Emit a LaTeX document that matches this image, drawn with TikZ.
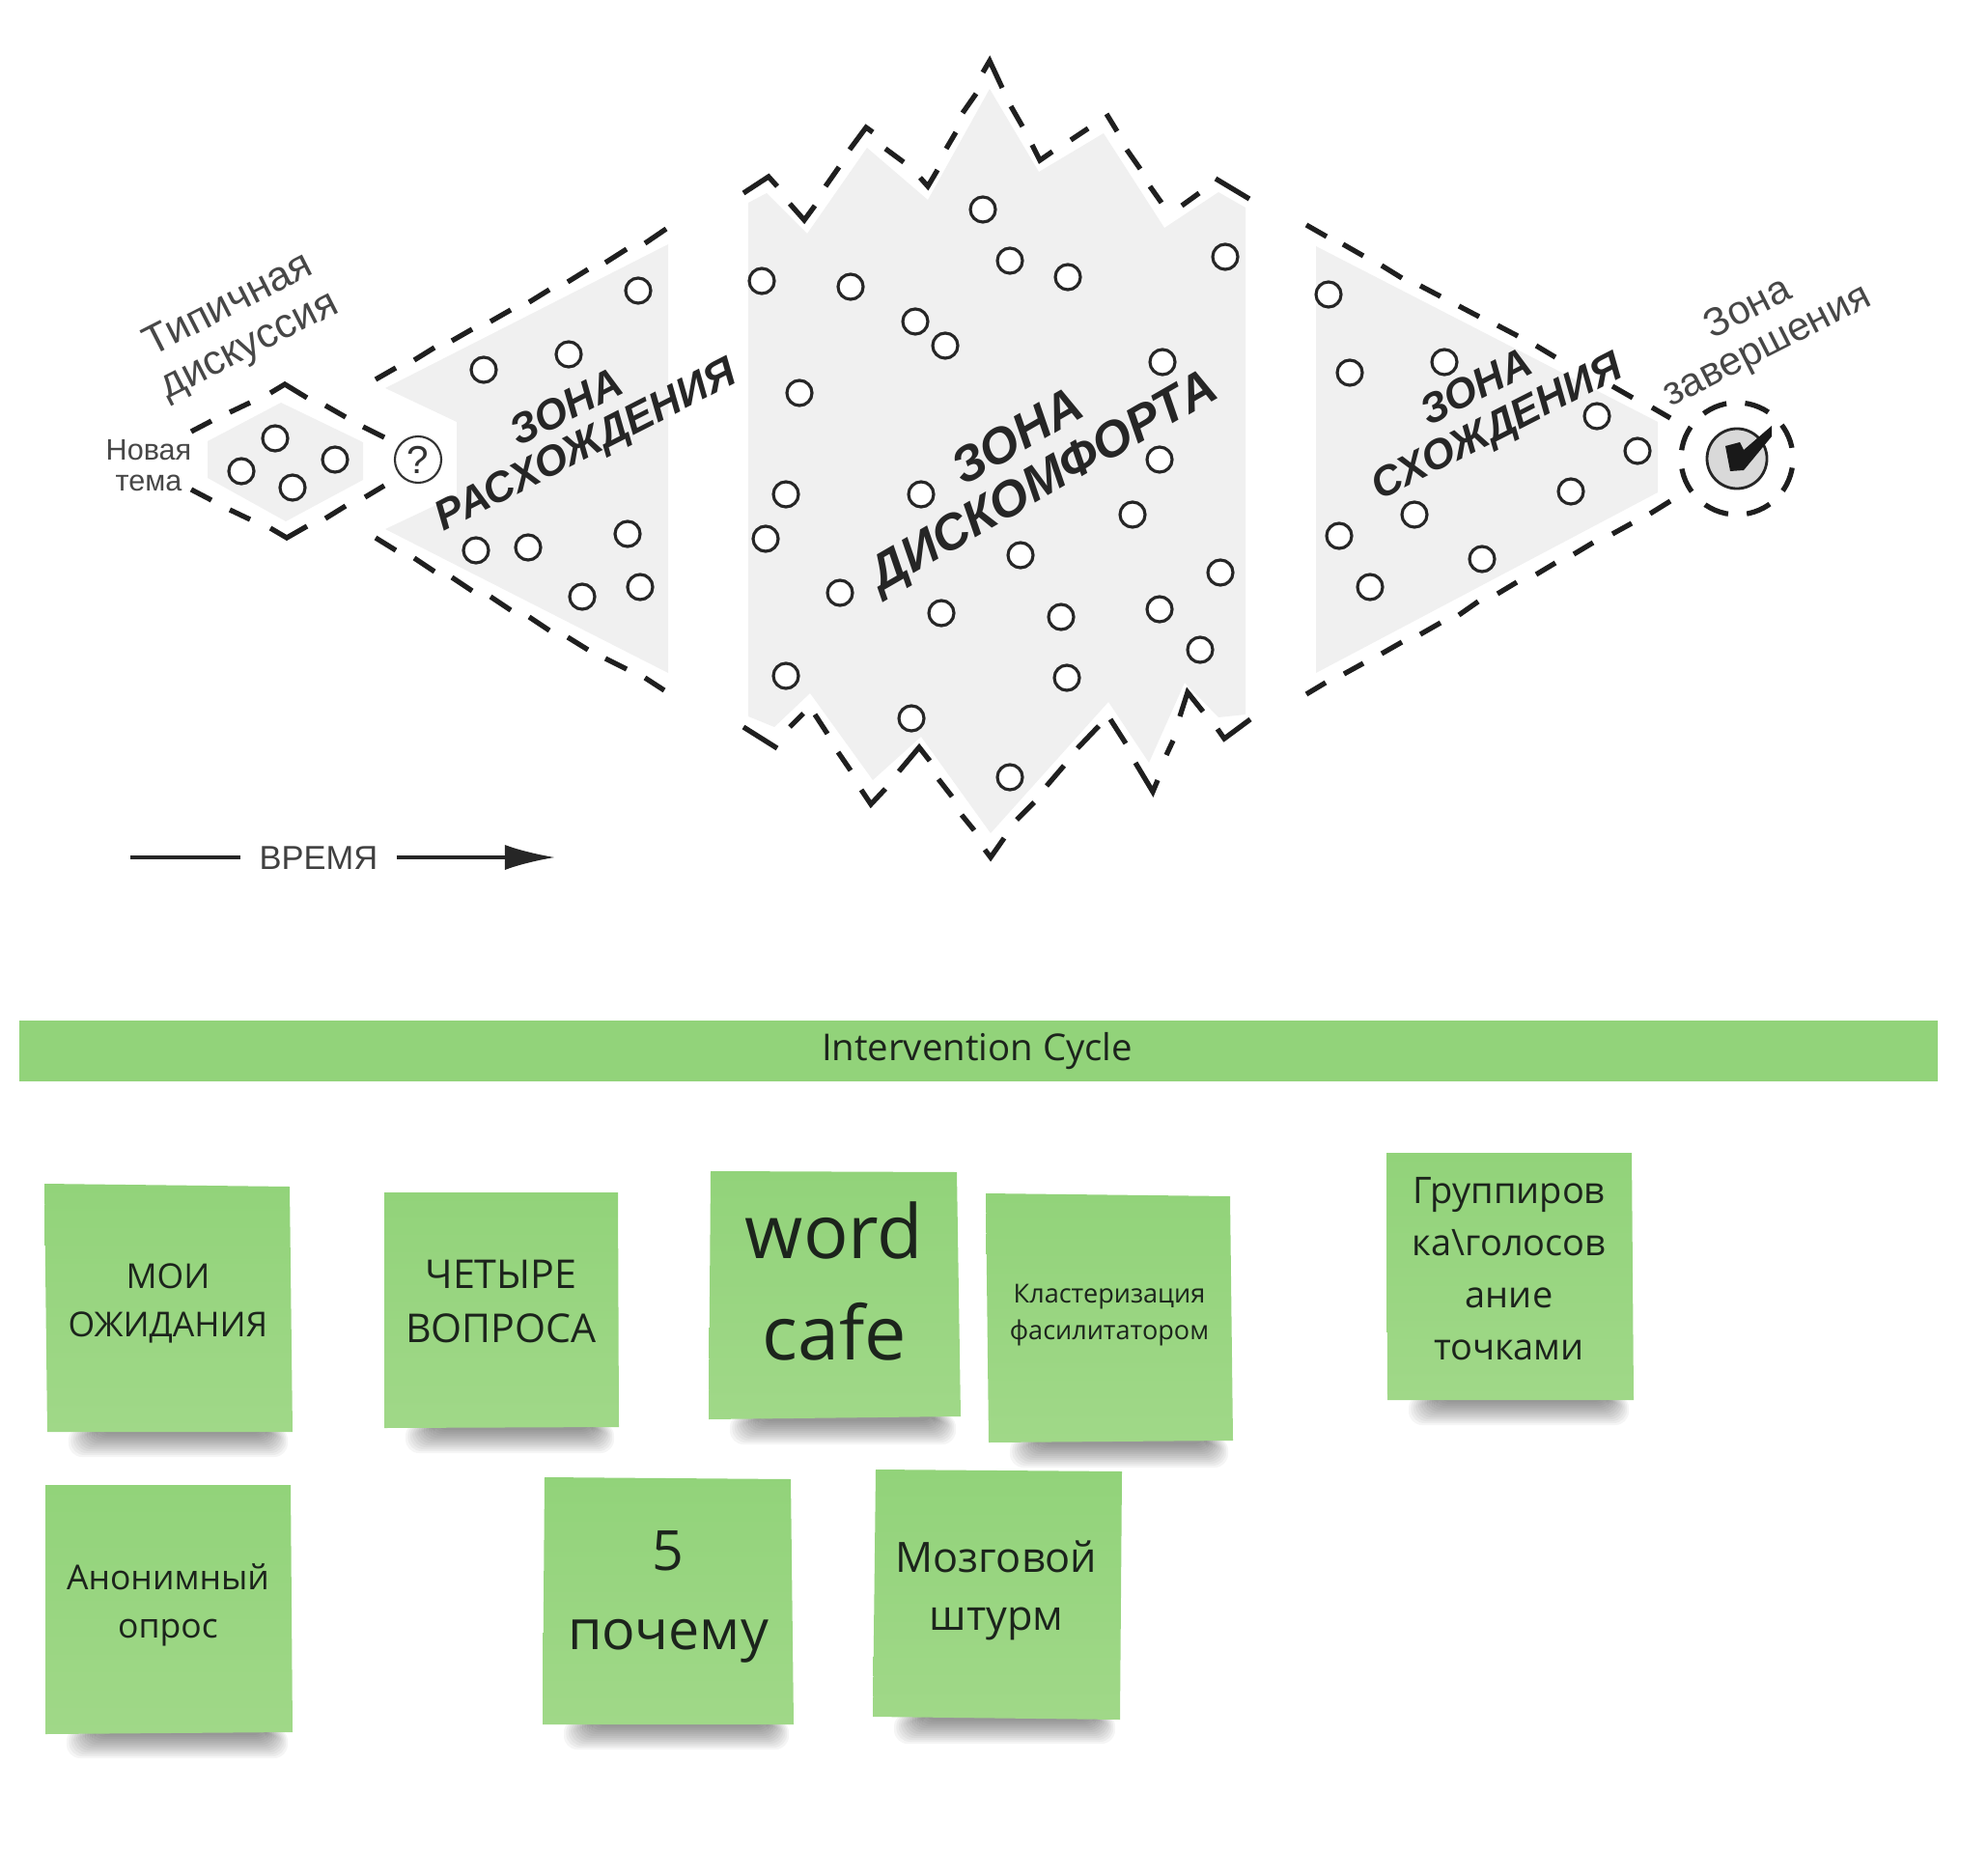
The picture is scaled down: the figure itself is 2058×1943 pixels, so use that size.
\documentclass[tikz,border=0pt]{standalone}
\usepackage{fontspec}
\setmainfont{Liberation Sans}
\newfontfamily\opensans{Open Sans}
\usetikzlibrary{arrows.meta}
\definecolor{zonegray}{HTML}{F0F0F0}
\definecolor{stickytop}{HTML}{92D37A}
\definecolor{stickylow}{HTML}{A0D888}
\definecolor{inktext}{HTML}{1C241C}
\tikzset{
    zonefill/.style={fill=zonegray},
    zonedash/.style={line width=1.5pt,draw=black!88},
    dot/.style={line width=0.9pt,draw=black!85,fill=white},
    zonelabel/.style={font=\bfseries\itshape\fontsize{12.4pt}{12.3pt}\selectfont,text=black!85,align=center,rotate=27},
    sidelabel/.style={text=black!72,align=center,rotate=27},
    stickyfill/.style={top color=stickytop,bottom color=stickylow},
    stickytext/.style={font=\opensans,text=inktext,align=center},
}
\begin{document}
\begin{tikzpicture}[x=0.01cm,y=-0.01cm]
    \useasboundingbox (0,0) rectangle (2058,1943);

    % Серые зоны
    \fill[zonefill] (215,457) -- (291,417) -- (376,458) -- (376,497) -- (296,540) -- (215,495) -- cycle;
    \fill[zonefill] (399,402) -- (473,437) -- (473,513) -- (399,548) -- (692,697) -- (692,253) -- cycle;
    \fill[zonefill] (775,210) -- (794,200) -- (836,242) -- (898,153) -- (961,207) -- (1025,92) -- (1076,178)
        -- (1143,138) -- (1206,236) -- (1262,199) -- (1290,215) -- (1290,740) -- (1262,743) -- (1227,707)
        -- (1190,790) -- (1148,727) -- (1026,863) -- (954,763) -- (904,808) -- (839,718) -- (802,753) -- (775,742) -- cycle;
    \fill[zonefill] (1363,255) -- (1717,437) -- (1717,510) -- (1363,697) -- cycle;

    % Типичная дискуссия
    \draw[zonedash] (198,447) -- (219,436) (238,427) -- (259,417) (280,407) -- (295,398) -- (318,412)
        (337,420) -- (358,432) (376,442) -- (398,453) (398,503) -- (378,515) (358,524) -- (337,537)
        (318,545) -- (297,557) -- (280,547) (259,538) -- (238,528) (219,518) -- (198,507);

    % Расхождение
    \draw[zonedash] (389,393) -- (410,381) (429,373) -- (450,360) (468,353) -- (489,341) (508,333) -- (529,321)
        (548,313) -- (569,300) (588,292) -- (609,279) (627,272) -- (649,258) (668,252) -- (690,237);
    \draw[zonedash] (389,557) -- (410,570) (429,578) -- (450,592) (468,598) -- (489,612) (508,618) -- (529,632)
        (548,639) -- (569,653) (588,660) -- (609,673) (627,682) -- (649,693) (668,702) -- (688,715);

    % Дискомфорт, верх
    \draw[zonedash] (770,200) -- (796,183) -- (805,193) (818,211) -- (833,228) -- (844,213) (855,193) -- (869,173)
        (880,155) -- (897,132) -- (904,137) (917,154) -- (936,168) (953,184) -- (961,193) -- (971,176)
        (980,154) -- (990,137) (997,117) -- (1011,97) (1018,75) -- (1025,63) -- (1038,91) (1047,110) -- (1059,131)
        (1069,150) -- (1077,166) -- (1090,157) (1109,145) -- (1127,133) (1146,118) -- (1157,136)
        (1167,155) -- (1181,175) (1191,193) -- (1203,210) (1224,213) -- (1242,200) (1259,185) -- (1294,206);

    % Дискомфорт, низ
    \draw[zonedash] (770,753) -- (805,775) (818,753) -- (832,739) (844,740) -- (857,760) (868,779) -- (881,798)
        (892,818) -- (902,833) -- (917,817) (931,799) -- (952,774) -- (963,788) (972,807) -- (986,825)
        (996,844) -- (1009,860) (1020,880) -- (1026,888) -- (1040,868) (1053,849) -- (1071,831) (1084,814) -- (1102,793)
        (1116,775) -- (1138,752) (1150,745) -- (1166,770) (1176,790) -- (1194,820) -- (1199,808) (1208,782) -- (1215,767)
        (1222,742) -- (1230,717) -- (1246,737) (1261,755) -- (1268,765) -- (1295,745);

    % Схождение
    \draw[zonedash] (1353,233) -- (1374,245) (1391,253) -- (1412,265) (1431,275) -- (1452,288) (1471,296) -- (1492,307)
        (1511,317) -- (1532,328) (1551,337) -- (1572,348) (1591,358) -- (1611,370) (1670,400) -- (1691,412) (1711,422) -- (1730,433);
    \draw[zonedash] (1730,519) -- (1709,532) (1690,542) -- (1670,553) (1650,562) -- (1630,574) (1611,583) -- (1591,595)
        (1571,603) -- (1551,615) (1531,623) -- (1511,637) (1492,645) -- (1471,657) (1452,665) -- (1431,677)
        (1412,687) -- (1392,698) (1373,707) -- (1353,719);

    % Идеи
    \foreach \x/\y in {285/454,250/488,347/476,303/505,
        661/301,501/383,589/367,493/570,547/567,650/553,603/618,663/608,
        1018/217,1046/270,1106/287,1269/266,789/291,881/297,948/333,979/358,1204/375,828/407,
        814/512,793/558,954/512,1201/476,1173/533,1057/575,870/614,975/635,1099/639,1201/631,1264/593,1243/673,814/700,1105/702,944/744,1046/805,
        1376/305,1398/386,1496/375,1654/431,1696/467,1627/509,1465/533,1387/555,1535/579,1419/608}
        \draw[dot] (\x,\y) circle (13);

    % Вопрос и завершение
    \node[draw=black!80,line width=0.6pt,circle,minimum size=0.48cm,inner sep=0pt,font=\fontsize{11.5pt}{11.5pt}\selectfont,text=black!80] (vopros) at (433,476) {?};
    \node[draw=black!85,line width=0.8pt,fill=black!15,circle,minimum size=0.62cm] (finish) at (1799,475) {};
    \fill[black!90] (1787,462) -- (1802,458) -- (1806,466) -- (1835,441) -- (1835,452) -- (1806,487) -- (1792,488) -- cycle;
    \draw[zonedash,dash pattern=on 7.4pt off 5.5pt,dash phase=10.2pt] (finish.center) circle (58);

    % Подписи зон
    \node[zonelabel] (rasx) at (598,444) {ЗОНА\\РАСХОЖДЕНИЯ};
    \node[zonelabel,rotate=3,font=\bfseries\itshape\fontsize{14.7pt}{15pt}\selectfont] (diskomfort) at (1069,478) {ЗОНА\\ДИСКОМФОРТА};
    \node[zonelabel,font=\bfseries\itshape\fontsize{12.3pt}{13pt}\selectfont] (sxozh) at (1541,424) {ЗОНА\\СХОЖДЕНИЯ};
    \node[sidelabel,font=\fontsize{12.2pt}{13.4pt}\selectfont] (tipich) at (248,338) {Типичная\\дискуссия};
    \node[sidelabel,font=\fontsize{11.8pt}{12.4pt}\selectfont] (zaversh) at (1821,340) {Зона\\завершения};
    \node[text=black!72,align=center,font=\fontsize{8.7pt}{8.9pt}\selectfont] (tema) at (154,482) {Новая\\тема};

    % Время
    \node[text=black!75,inner sep=5.4pt,font=\fontsize{9.8pt}{10pt}\selectfont] (vremya) at (330,889) {ВРЕМЯ};
    \coordinate (t0) at (135,888);
    \coordinate (t1) at (575,888);
    \draw[line width=1pt,black!85] (t0) -- (t0 -| vremya.west);
    \draw[line width=1pt,black!85,-{Latex[length=14.8pt,width=7.4pt]}] (t0 -| vremya.east) -- (t1);

    % Полоса
    \fill[stickytop] (20,1057) rectangle (2007,1120);
    \node[stickytext,font=\opensans\fontsize{10.9pt}{12pt}\selectfont] (cycle) at (1012,1089) {Intervention Cycle};

    % Тени стикеров
    \foreach \xa/\xb/\yb in {49/303/1483,398/641/1479,734/995/1470,1024/1277/1494,1437/1692/1450,47/303/1795,562/822/1786,904/1160/1780}
        \foreach \d in {0,2,...,24}
            \fill[black,opacity=0.04,rounded corners=4] (\xa+22+\d*1.2,\yb-6) rectangle (\xb-5-\d*0.9,\yb+26-\d);

    % Стикеры
    \shade[stickyfill] (46,1226) -- (300,1229) -- (303,1483) -- (49,1483) -- cycle;
    \node[stickytext,font=\opensans\fontsize{10.1pt}{14.2pt}\selectfont] (moi) at (174,1350) {МОИ\\ОЖИДАНИЯ};
    \shade[stickyfill] (398,1235) -- (640,1235) -- (641,1478) -- (398,1479) -- cycle;
    \node[stickytext,font=\opensans\fontsize{11.7pt}{15.8pt}\selectfont] (chetyre) at (519,1348) {ЧЕТЫРЕ\\ВОПРОСА};
    \shade[stickyfill] (736,1213) -- (991,1214) -- (995,1467) -- (734,1470) -- cycle;
    \node[stickytext,font=\opensans\fontsize{22pt}{30pt}\selectfont] (cafe) at (864,1327) {word\\cafe};
    \shade[stickyfill] (1021,1236) -- (1274,1239) -- (1277,1492) -- (1024,1494) -- cycle;
    \node[stickytext,font=\opensans\fontsize{7.7pt}{10.8pt}\selectfont] (klaster) at (1149,1362) {Кластеризация\\фасилитатором};
    \shade[stickyfill] (1436,1194) -- (1690,1194) -- (1692,1450) -- (1437,1450) -- cycle;
    \node[stickytext,font=\opensans\fontsize{10.8pt}{15.3pt}\selectfont] (gruppa) at (1563,1314) {Группиров\\ка\textbackslash голосов\\ание\\точками};
    \shade[stickyfill] (47,1538) -- (301,1538) -- (303,1794) -- (47,1796) -- cycle;
    \node[stickytext,font=\opensans\fontsize{10.1pt}{14.2pt}\selectfont] (anonim) at (174,1662) {Анонимный\\опрос};
    \shade[stickyfill] (564,1530) -- (819,1532) -- (822,1786) -- (562,1786) -- cycle;
    \node[stickytext,font=\opensans\fontsize{16.3pt}{23.4pt}\selectfont] (pochemu) at (692,1654) {5\\почему};
    \shade[stickyfill] (907,1522) -- (1162,1524) -- (1160,1781) -- (904,1778) -- cycle;
    \node[stickytext,font=\opensans\fontsize{12.3pt}{17pt}\selectfont] (shturm) at (1032,1647) {Мозговой\\штурм};
\end{tikzpicture}
\end{document}
